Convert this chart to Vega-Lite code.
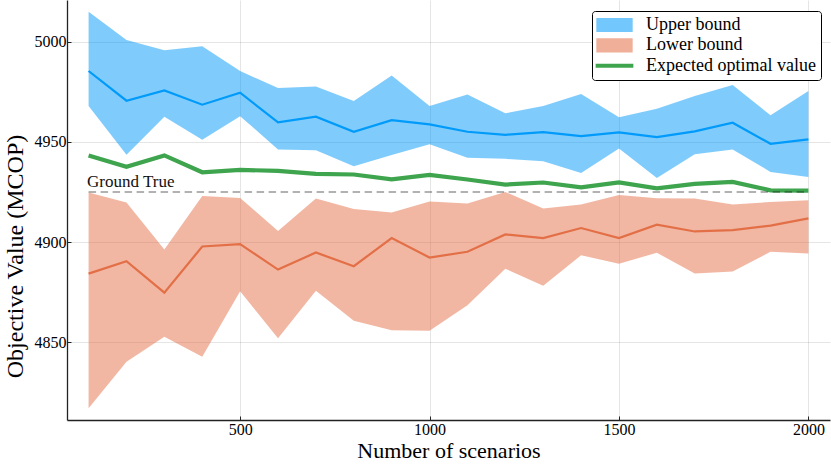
{
  "$schema": "https://vega.github.io/schema/vega-lite/v6.json",
  "description": "Upper and lower bounds of the objective value against the number of scenarios.",
  "width": 763,
  "height": 420,
  "autosize": {"type": "none"},
  "padding": {"left": 67, "top": 0, "right": 1, "bottom": 47},
  "config": {
    "view": {"stroke": null},
    "font": "Liberation Serif",
    "axis": {
      "grid": true,
      "gridColor": "#000000",
      "gridOpacity": 0.1,
      "gridWidth": 1,
      "domainColor": "#222222",
      "domainWidth": 1.3,
      "tickColor": "#222222",
      "tickSize": -4,
      "tickWidth": 1,
      "format": "d",
      "labelColor": "#000000",
      "labelFontSize": 16,
      "labelFont": "Liberation Serif",
      "titleFont": "Liberation Serif",
      "titleFontWeight": "normal",
      "titleColor": "#000000"
    }
  },
  "datasets": {
    "bounds": [
      {"n": 100, "series": "Upper bound", "low": 4967.8, "mean": 4985.3, "high": 5014.8},
      {"n": 200, "series": "Upper bound", "low": 4943.5, "mean": 4970.5, "high": 5000.8},
      {"n": 300, "series": "Upper bound", "low": 4962.5, "mean": 4975.6, "high": 4995.6},
      {"n": 400, "series": "Upper bound", "low": 4951.0, "mean": 4968.5, "high": 4997.6},
      {"n": 500, "series": "Upper bound", "low": 4962.8, "mean": 4974.5, "high": 4985.3},
      {"n": 600, "series": "Upper bound", "low": 4946.2, "mean": 4959.7, "high": 4976.8},
      {"n": 700, "series": "Upper bound", "low": 4945.8, "mean": 4962.5, "high": 4977.6},
      {"n": 800, "series": "Upper bound", "low": 4937.8, "mean": 4955.0, "high": 4970.3},
      {"n": 900, "series": "Upper bound", "low": 4943.4, "mean": 4960.8, "high": 4983.1},
      {"n": 1000, "series": "Upper bound", "low": 4948.8, "mean": 4958.7, "high": 4967.8},
      {"n": 1100, "series": "Upper bound", "low": 4942.0, "mean": 4955.0, "high": 4973.6},
      {"n": 1200, "series": "Upper bound", "low": 4941.5, "mean": 4953.5, "high": 4964.2},
      {"n": 1300, "series": "Upper bound", "low": 4940.3, "mean": 4954.8, "high": 4967.8},
      {"n": 1400, "series": "Upper bound", "low": 4934.5, "mean": 4952.8, "high": 4973.8},
      {"n": 1500, "series": "Upper bound", "low": 4946.7, "mean": 4954.7, "high": 4962.3},
      {"n": 1600, "series": "Upper bound", "low": 4932.0, "mean": 4952.3, "high": 4966.5},
      {"n": 1700, "series": "Upper bound", "low": 4943.8, "mean": 4955.2, "high": 4972.8},
      {"n": 1800, "series": "Upper bound", "low": 4946.2, "mean": 4959.5, "high": 4978.3},
      {"n": 1900, "series": "Upper bound", "low": 4935.0, "mean": 4949.0, "high": 4963.2},
      {"n": 2000, "series": "Upper bound", "low": 4932.5, "mean": 4951.2, "high": 4975.3},
      {"n": 100, "series": "Lower bound", "low": 4817.2, "mean": 4884.3, "high": 4924.7},
      {"n": 200, "series": "Lower bound", "low": 4840.3, "mean": 4890.5, "high": 4919.7},
      {"n": 300, "series": "Lower bound", "low": 4852.8, "mean": 4874.8, "high": 4896.3},
      {"n": 400, "series": "Lower bound", "low": 4842.8, "mean": 4897.8, "high": 4923.0},
      {"n": 500, "series": "Lower bound", "low": 4875.5, "mean": 4899.0, "high": 4922.0},
      {"n": 600, "series": "Lower bound", "low": 4852.0, "mean": 4886.3, "high": 4905.5},
      {"n": 700, "series": "Lower bound", "low": 4875.7, "mean": 4894.8, "high": 4921.7},
      {"n": 800, "series": "Lower bound", "low": 4860.8, "mean": 4888.0, "high": 4916.5},
      {"n": 900, "series": "Lower bound", "low": 4856.0, "mean": 4902.0, "high": 4914.7},
      {"n": 1000, "series": "Lower bound", "low": 4855.8, "mean": 4892.3, "high": 4920.3},
      {"n": 1100, "series": "Lower bound", "low": 4868.5, "mean": 4895.2, "high": 4919.3},
      {"n": 1200, "series": "Lower bound", "low": 4886.7, "mean": 4903.8, "high": 4925.0},
      {"n": 1300, "series": "Lower bound", "low": 4878.2, "mean": 4902.0, "high": 4916.7},
      {"n": 1400, "series": "Lower bound", "low": 4893.5, "mean": 4907.0, "high": 4918.7},
      {"n": 1500, "series": "Lower bound", "low": 4889.2, "mean": 4902.0, "high": 4923.5},
      {"n": 1600, "series": "Lower bound", "low": 4894.7, "mean": 4908.7, "high": 4921.8},
      {"n": 1700, "series": "Lower bound", "low": 4884.3, "mean": 4905.3, "high": 4921.7},
      {"n": 1800, "series": "Lower bound", "low": 4885.3, "mean": 4906.0, "high": 4918.8},
      {"n": 1900, "series": "Lower bound", "low": 4895.2, "mean": 4908.2, "high": 4920.0},
      {"n": 2000, "series": "Lower bound", "low": 4894.3, "mean": 4911.8, "high": 4920.8}
    ],
    "expected": [
      {"n": 100, "series": "Expected optimal value", "value": 4943.2},
      {"n": 200, "series": "Expected optimal value", "value": 4937.5},
      {"n": 300, "series": "Expected optimal value", "value": 4943.2},
      {"n": 400, "series": "Expected optimal value", "value": 4934.8},
      {"n": 500, "series": "Expected optimal value", "value": 4936.0},
      {"n": 600, "series": "Expected optimal value", "value": 4935.5},
      {"n": 700, "series": "Expected optimal value", "value": 4934.0},
      {"n": 800, "series": "Expected optimal value", "value": 4933.7},
      {"n": 900, "series": "Expected optimal value", "value": 4931.3},
      {"n": 1000, "series": "Expected optimal value", "value": 4933.5},
      {"n": 1100, "series": "Expected optimal value", "value": 4931.2},
      {"n": 1200, "series": "Expected optimal value", "value": 4928.7},
      {"n": 1300, "series": "Expected optimal value", "value": 4929.7},
      {"n": 1400, "series": "Expected optimal value", "value": 4927.3},
      {"n": 1500, "series": "Expected optimal value", "value": 4929.8},
      {"n": 1600, "series": "Expected optimal value", "value": 4926.8},
      {"n": 1700, "series": "Expected optimal value", "value": 4929.0},
      {"n": 1800, "series": "Expected optimal value", "value": 4930.0},
      {"n": 1900, "series": "Expected optimal value", "value": 4925.8},
      {"n": 2000, "series": "Expected optimal value", "value": 4925.7}
    ],
    "truth": [
      {"n": 100, "n2": 2000, "value": 4925, "label": "Ground True"}
    ]
  },
  "encoding": {
    "x": {
      "field": "n",
      "type": "quantitative",
      "scale": {"domain": [43, 2057], "nice": false, "zero": false},
      "axis": {
        "values": [500, 1000, 1500, 2000],
        "title": "Number of scenarios",
        "titleFontSize": 22,
        "titleBaseline": "alphabetic",
        "titleY": 37.7,
        "labelPadding": 5
      }
    }
  },
  "layer": [
    {
      "data": {"name": "bounds"},
      "mark": {"type": "area", "opacity": 0.5},
      "encoding": {
        "y": {
          "field": "low",
          "type": "quantitative",
          "scale": {"domain": [4811.3, 5020.7], "nice": false, "zero": false},
          "axis": {
            "values": [4850, 4900, 4950, 5000],
            "title": "Objective Value (MCOP)",
            "titleFontSize": 24,
            "titleBaseline": "alphabetic",
            "titleX": -45,
            "titleY": 256,
            "labelPadding": 5
          }
        },
        "y2": {"field": "high"},
        "color": {
          "field": "series",
          "type": "nominal",
          "scale": {
            "domain": ["Upper bound", "Lower bound", "Expected optimal value"],
            "range": ["#009AFA", "#E36F47", "#3EA44E"]
          },
          "legend": {
            "title": null,
            "orient": "none",
            "legendX": 525,
            "legendY": 11,
            "padding": 5,
            "fillColor": "#ffffff",
            "strokeColor": "#000000",
            "cornerRadius": 3,
            "labelFont": "Liberation Serif",
            "labelFontSize": 18,
            "labelColor": "#000000",
            "labelLimit": 400,
            "labelOffset": 22.5,
            "symbolSize": 169,
            "symbolOffset": 8.5,
            "rowPadding": 2.4,
            "symbolType": {"expr": "datum.value == 'Expected optimal value' ? 'M-2.9,0H2.9' : 'M-2.7,-1H2.7V1H-2.7Z'"},
            "symbolStrokeColor": {"expr": "scale('color', datum.value)"},
            "symbolStrokeWidth": {"expr": "datum.value == 'Expected optimal value' ? 4 : 1.2"},
            "symbolOpacity": {"expr": "datum.value == 'Expected optimal value' ? 1 : 0.55"}
          }
        }
      }
    },
    {
      "data": {"name": "bounds"},
      "mark": {"type": "line", "strokeWidth": 2.2},
      "encoding": {
        "y": {"field": "mean", "type": "quantitative", "title": "Objective Value (MCOP)"},
        "color": {"field": "series", "type": "nominal", "legend": null}
      }
    },
    {
      "data": {"name": "expected"},
      "mark": {"type": "line", "strokeWidth": 4.2},
      "encoding": {
        "y": {"field": "value", "type": "quantitative", "title": "Objective Value (MCOP)"},
        "color": {"field": "series", "type": "nominal", "legend": null}
      }
    },
    {
      "data": {"name": "truth"},
      "mark": {"type": "rule", "stroke": "#000000", "strokeOpacity": 0.3, "strokeWidth": 2, "strokeDash": [7.5, 4.5]},
      "encoding": {
        "x2": {"field": "n2"},
        "y": {"field": "value", "type": "quantitative", "title": "Objective Value (MCOP)"}
      }
    },
    {
      "data": {"name": "truth"},
      "mark": {"type": "text", "align": "left", "baseline": "alphabetic", "dx": -1.5, "dy": -5.3, "fontSize": 17, "font": "Liberation Serif", "color": "#111111"},
      "encoding": {
        "y": {"field": "value", "type": "quantitative", "title": "Objective Value (MCOP)"},
        "text": {"field": "label"}
      }
    }
  ]
}
